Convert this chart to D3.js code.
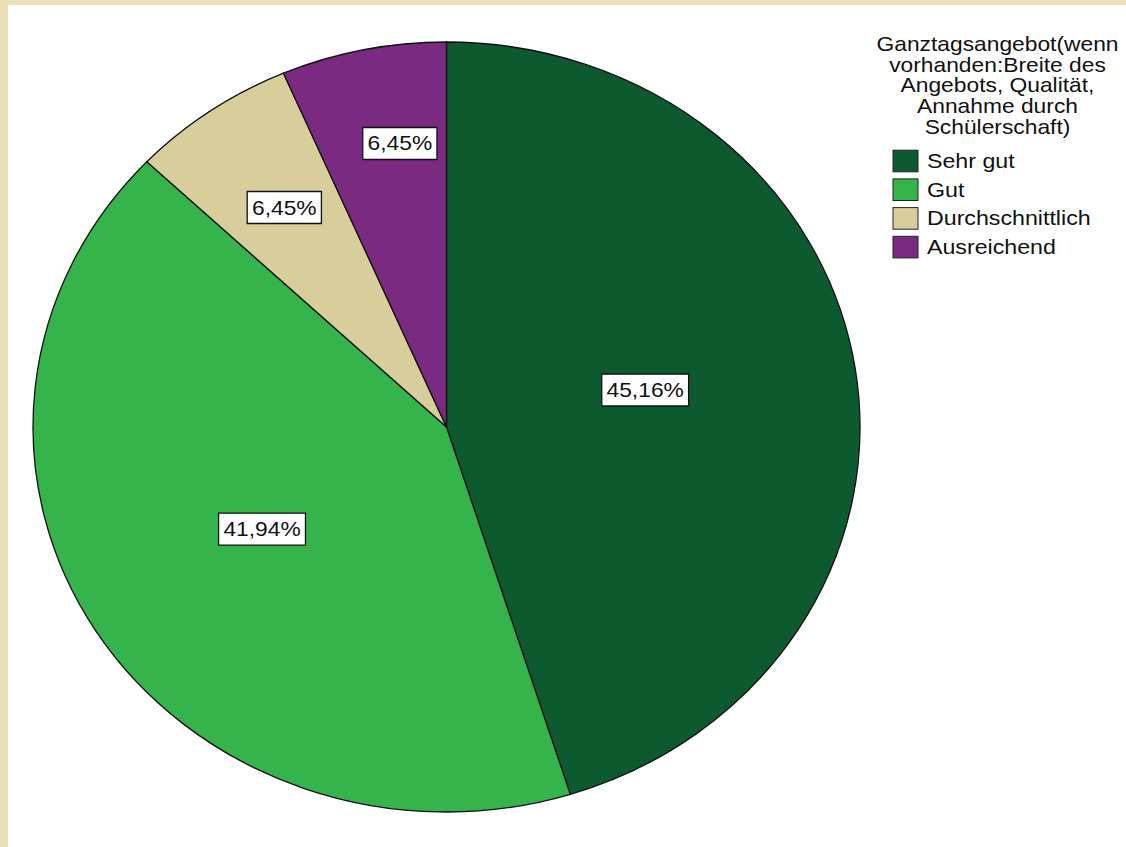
<!DOCTYPE html>
<html>
<head>
<meta charset="utf-8">
<script src="https://cdn.jsdelivr.net/npm/d3@7"></script>
<style>
  html, body { margin: 0; padding: 0; background: #fff; }
  svg { display: block; }
  text { font-family: "Liberation Sans", Arial, sans-serif; fill: #111; }
</style>
</head>
<body>
<svg id="chart" width="1126" height="847"></svg>
<script>
// ---- data ----
const categories = ["Sehr gut", "Gut", "Durchschnittlich", "Ausreichend"];
const percentages = [45.16, 41.94, 6.45, 6.45];
const labels = ["45,16%", "41,94%", "6,45%", "6,45%"];
const colors = ["#0d5a30", "#34b44a", "#d7ce9c", "#7a2a80"];
const legendTitle = ["Ganztagsangebot(wenn", "vorhanden:Breite des", "Angebots, Qualität,", "Annahme durch", "Schülerschaft)"];

// ---- layout config ----
const W = 1126, H = 847;
const cx = 446.5, cy = 427, rx = 413.5, ry = 385;
const labelRadiusFrac = [0.49, 0.519, 0.692, 0.745];
const labelAngleNudgeDeg = [-2.6, 1.2, 0.3, 2.9];
const textStretch = 1.14;
const legendStretch = 1.16;
const fontSize = 20;

const svg = d3.select("#chart");

// background & beige frame (top and left only)
svg.append("rect").attr("x", 0).attr("y", 0).attr("width", W).attr("height", H).attr("fill", "#ffffff");
svg.append("rect").attr("x", 0).attr("y", 0).attr("width", W).attr("height", 5).attr("fill", "#ebe0bb");
svg.append("rect").attr("x", 0).attr("y", 0).attr("width", 8).attr("height", H).attr("fill", "#ebe0bb");

const data = categories.map((c, i) => ({ cat: c, value: percentages[i], label: labels[i], color: colors[i], lf: labelRadiusFrac[i], nudge: labelAngleNudgeDeg[i] }));

const pie = d3.pie().value(d => d.value).sort(null).startAngle(0).endAngle(2 * Math.PI);
const arcs = pie(data);
const arc = d3.arc().innerRadius(0).outerRadius(rx);

const g = svg.append("g").attr("transform", `translate(${cx},${cy}) scale(1,${ry / rx})`);
g.selectAll("path.slice")
  .data(arcs)
  .enter().append("path")
  .attr("class", "slice")
  .attr("d", arc)
  .attr("fill", d => d.data.color)
  .attr("stroke", "#111")
  .attr("stroke-width", 1.3)
  .attr("vector-effect", "non-scaling-stroke");

// labels
const ys = ry / rx;
arcs.forEach(a => {
  const r = rx * a.data.lf;
  const la = d3.arc().innerRadius(r).outerRadius(r);
  const nudge = a.data.nudge * Math.PI / 180;
  const [lx, ly] = la.centroid({ startAngle: a.startAngle + nudge, endAngle: a.endAngle + nudge });
  const px = cx + lx, py = cy + ly * ys;
  const lg = svg.append("g").attr("transform", `translate(${px},${py}) scale(${textStretch},1)`);
  const rect = lg.append("rect").attr("fill", "#fff").attr("stroke", "#111").attr("stroke-width", 1.3).attr("vector-effect", "non-scaling-stroke");
  const t = lg.append("text")
    .attr("text-anchor", "middle")
    .attr("y", 7)
    .attr("font-size", fontSize)
    .text(a.data.label);
  const bb = t.node().getBBox();
  const padX = 4.2;
  rect.attr("x", bb.x - padX).attr("y", -16).attr("width", bb.width + 2 * padX).attr("height", 32);
});

// legend title
const titleCx = 997.5;
const titleYs = [44, 64.7, 85.4, 106.1, 126.8];
legendTitle.forEach((line, i) => {
  svg.append("g").attr("transform", `translate(${titleCx},${titleYs[i] + 7}) scale(${textStretch},1)`)
    .append("text").attr("text-anchor", "middle").attr("font-size", fontSize).text(line);
});

// legend items
const itemYs = [161, 189.7, 218.4, 247.1];
const lgItems = svg.append("g");
categories.forEach((c, i) => {
  lgItems.append("rect")
    .attr("x", 893).attr("y", itemYs[i] - 10.8)
    .attr("width", 25).attr("height", 21.6)
    .attr("fill", colors[i]).attr("stroke", "#222").attr("stroke-width", 1);
  lgItems.append("g").attr("transform", `translate(927,${itemYs[i] + 7}) scale(${legendStretch},1)`)
    .append("text").attr("font-size", fontSize).text(c);
});
</script>
</body>
</html>
